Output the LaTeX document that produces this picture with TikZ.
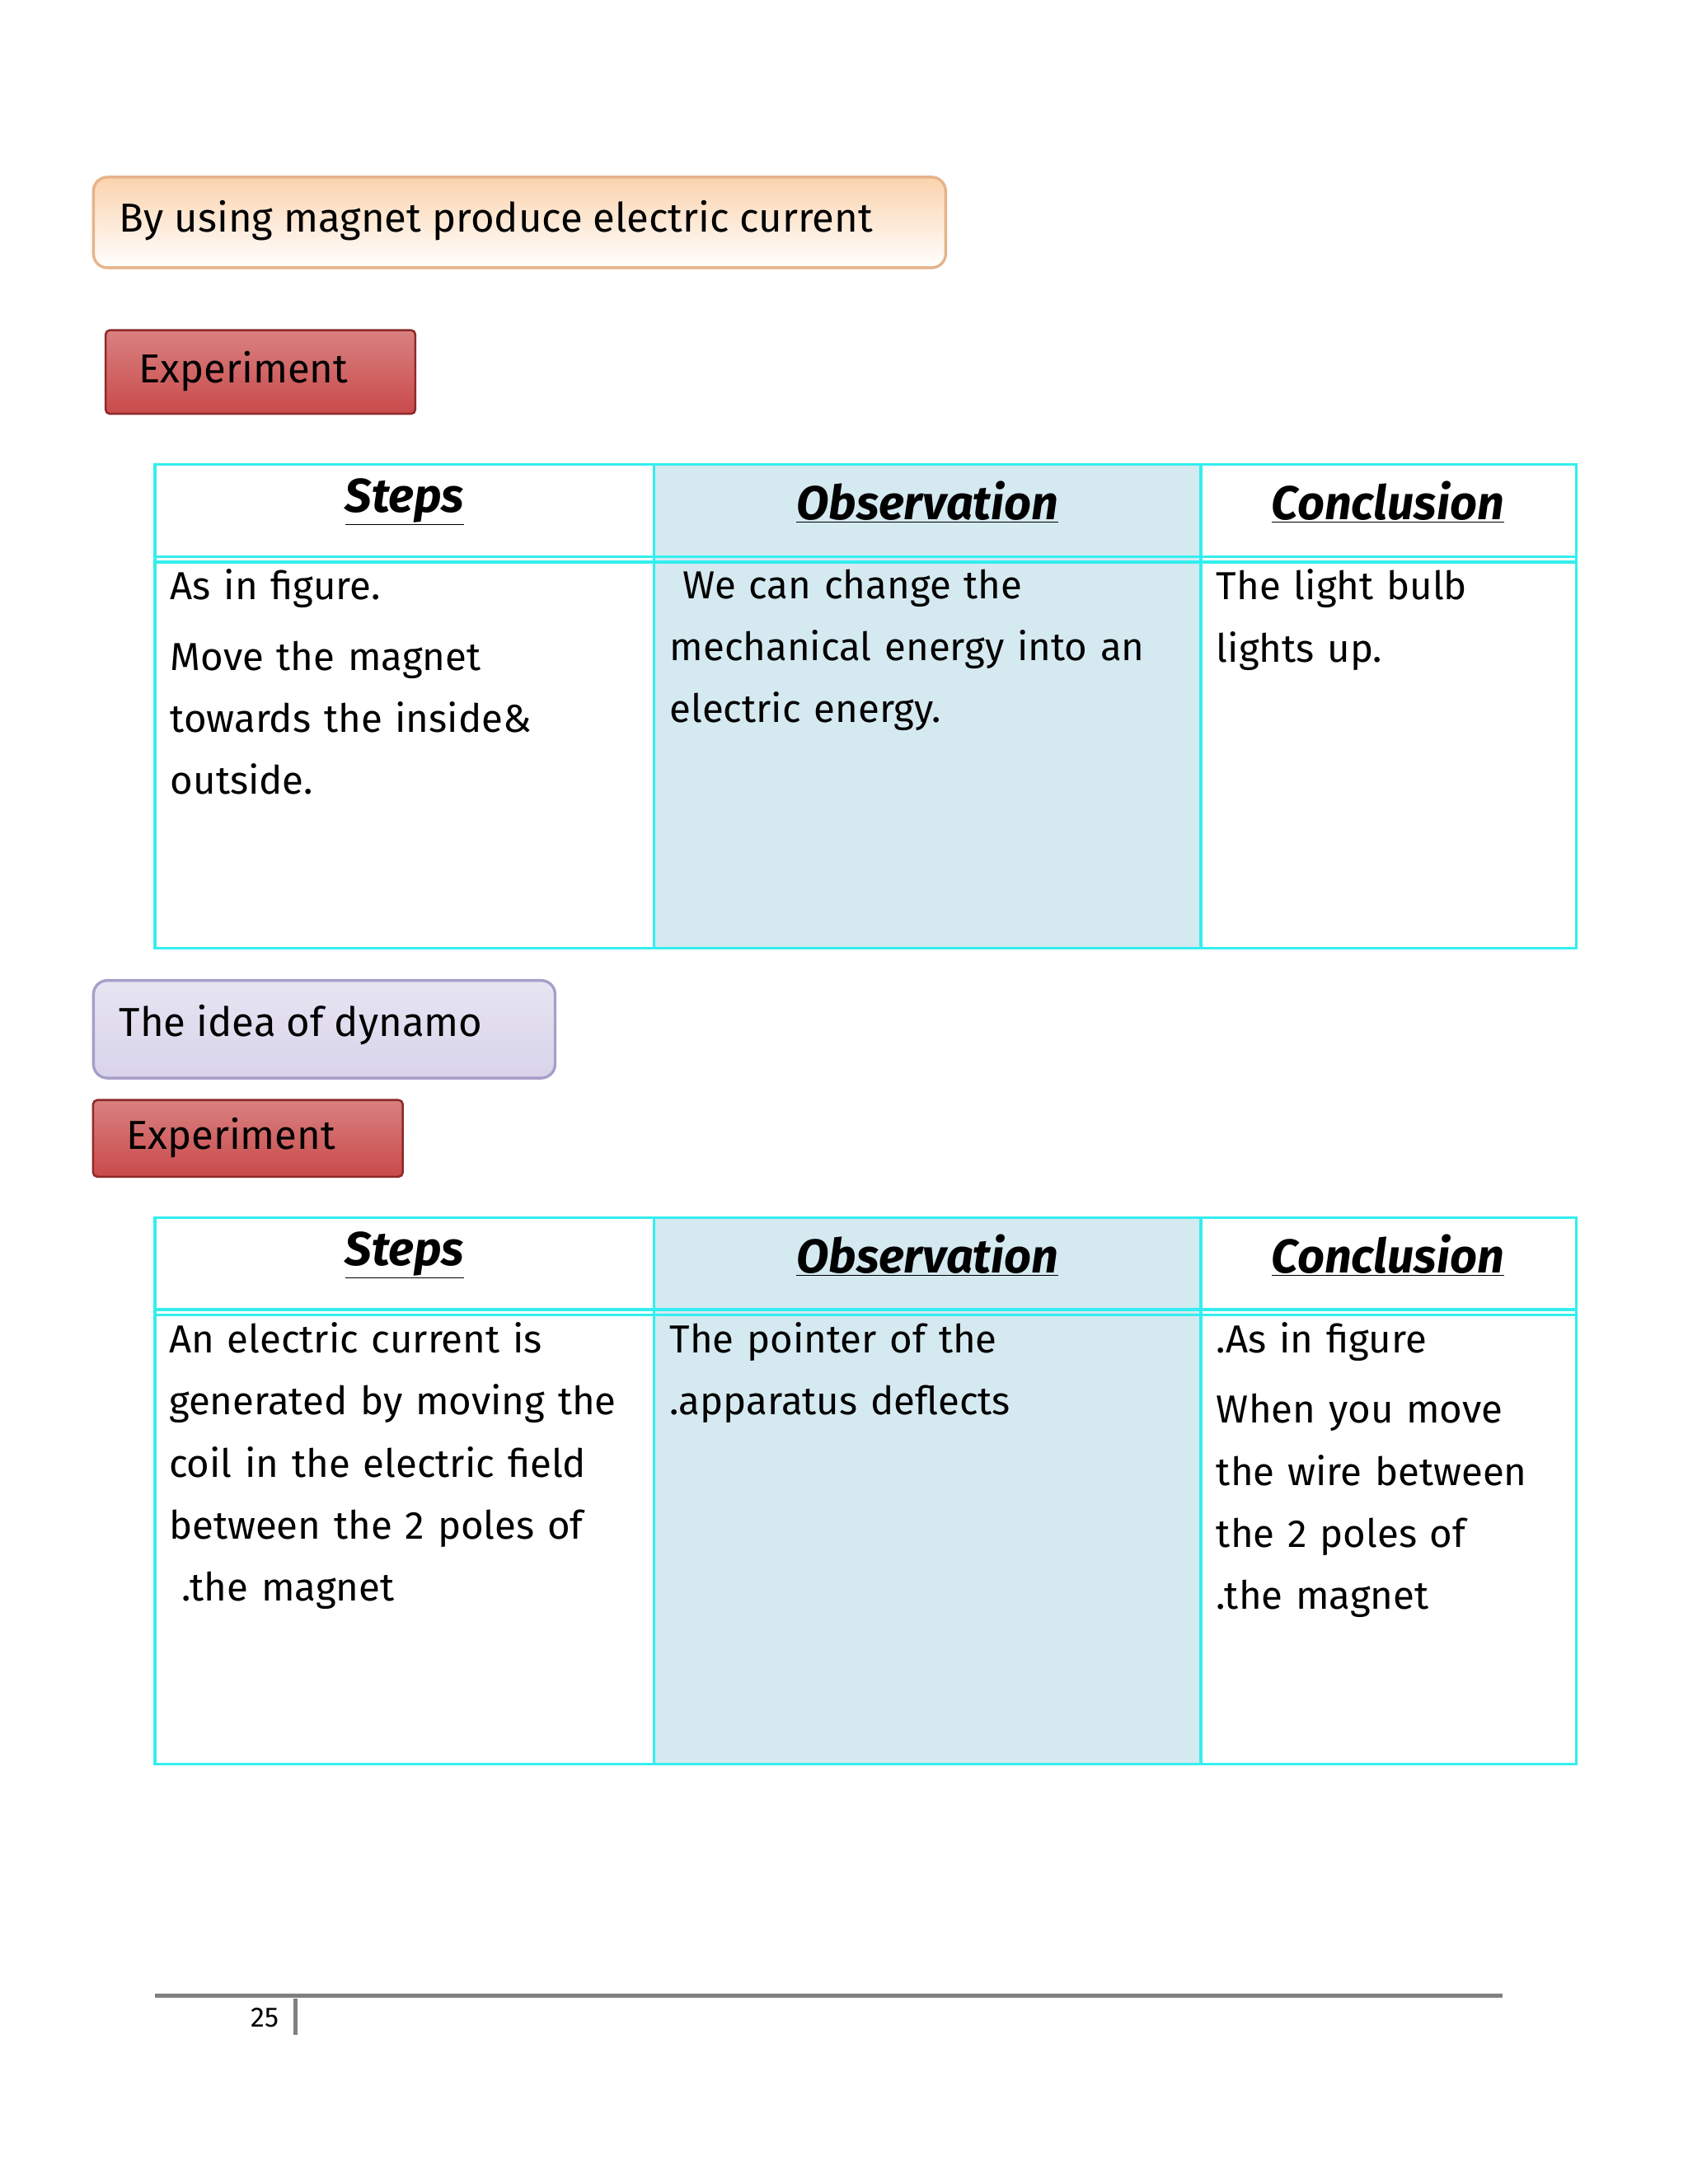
\documentclass[tikz,border=0pt]{standalone}
\usepackage{fontspec}
\setmainfont{Fira Sans}
\usetikzlibrary{shadings}
\definecolor{cy}{HTML}{33EEEE}
\definecolor{obs}{HTML}{D5E9F0}
\definecolor{peach}{HTML}{FBD3AE}
\definecolor{peachb}{HTML}{E6B38A}
\definecolor{lav}{HTML}{D8D3EA}
\definecolor{lavb}{HTML}{A79FC8}
\definecolor{redf}{HTML}{C94A4A}
\definecolor{redb}{HTML}{8E2A2A}
\tikzset{
 body/.style={anchor=north west,align=left,font=\fontsize{28}{44.5}\selectfont,text width=#1,inner sep=0pt},
 hdr/.style={font=\fontsize{34}{38}\selectfont\bfseries\itshape},
 tline/.style={draw=cy,line width=2pt},
 banner/.style={draw=redb,line width=1.5pt,rounded corners=3pt,top color=redf!70!white,bottom color=redf},
 btxt/.style={anchor=west,font=\fontsize{29}{32}\selectfont}
}
\newcommand{\hu}[1]{\underline{#1}}
\begin{document}
\begin{tikzpicture}[x=1pt,y=-1pt]
\useasboundingbox (0,0) rectangle (1210,1566);
% title 1
\node[draw=peachb,line width=2pt,rounded corners=10pt,top color=peach,bottom color=white,minimum width=611pt,minimum height=65pt,anchor=north west,inner sep=0pt] (t1) at (66,126) {};
\node[btxt] (t1t) at (82,158) {By using magnet produce electric current};
% experiment 1
\node[banner,minimum width=222pt,minimum height=60pt,anchor=north west] (e1) at (75,236) {};
\node[btxt] (e1t) at (96,266) {Experiment};
% table 1
\fill[obs] (469,333) rectangle (861,680);
\draw[tline] (111,333) rectangle (1130,680);
\draw[tline] (469,333) -- (469,680) (861,333) -- (861,680);
\draw[tline] (111,399) -- (1130,399) (111,403) -- (1130,403);
\node[hdr] (h1) at (290,360) {\hu{Steps}};
\node[hdr] (h2) at (665,360) {\hu{Observation}};
\node[hdr] (h3) at (995,360) {\hu{Conclusion}};
\node[body=345pt] (c11) at (122,408) {As in figure.\\[6pt]Move the magnet\\towards the inside\&\\outside.};
\node[body=375pt] (c12) at (480,408) {\ We can change the\\mechanical energy into an\\electric energy.};
\node[body=255pt] (c13) at (872,408) {The light bulb\\lights up.};
% title 2
\node[draw=lavb,line width=2pt,rounded corners=10pt,top color=lav!60!white,bottom color=lav,minimum width=331pt,minimum height=70pt,anchor=north west,inner sep=0pt] (t2) at (66,702) {};
\node[btxt] (t2t) at (82,735) {The idea of dynamo};
% experiment 2
\node[banner,minimum width=222pt,minimum height=55pt,anchor=north west] (e2) at (66,788) {};
\node[btxt] (e2t) at (87,816) {Experiment};
% table 2
\fill[obs] (469,873) rectangle (861,1265);
\draw[tline] (111,873) rectangle (1130,1265);
\draw[tline] (469,873) -- (469,1265) (861,873) -- (861,1265);
\draw[tline] (111,939) -- (1130,939) (111,943) -- (1130,943);
\node[hdr] (g1) at (290,900) {\hu{Steps}};
\node[hdr] (g2) at (665,900) {\hu{Observation}};
\node[hdr] (g3) at (995,900) {\hu{Conclusion}};
\node[body=345pt] (d11) at (121,948) {An electric current is\\generated by moving the\\coil in the electric field\\between the 2 poles of\\\ .the magnet};
\node[body=375pt] (d12) at (480,948) {The pointer of the\\.apparatus deflects};
\node[body=255pt] (d13) at (872,948) {.As in figure\\[6pt]When you move\\the wire between\\the 2 poles of\\.the magnet};
% footer
\draw[gray,line width=3pt] (111,1431) -- (1077,1431);
\draw[gray,line width=3pt] (212,1433) -- (212,1459);
\node[font=\fontsize{20}{22}\selectfont] (pg) at (190,1447) {25};
\end{tikzpicture}
\end{document}
